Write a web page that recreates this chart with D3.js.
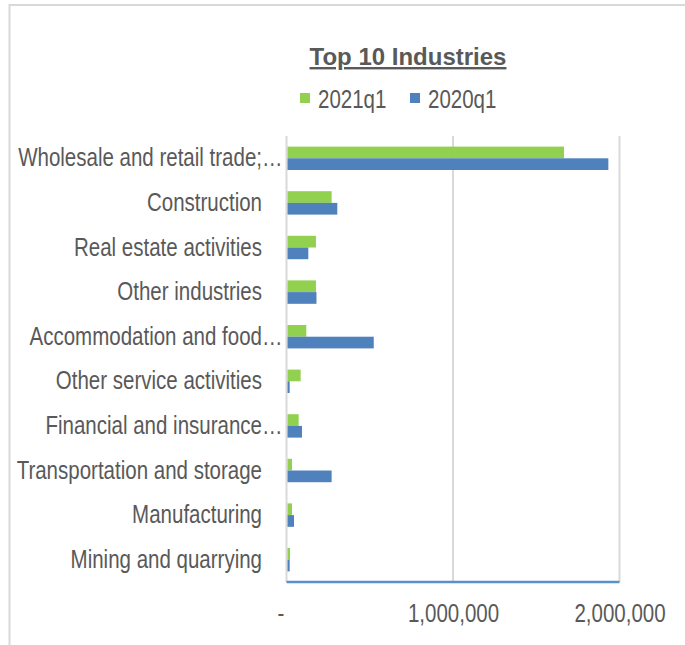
<!DOCTYPE html>
<html>
<head>
<meta charset="utf-8">
<script src="https://cdn.jsdelivr.net/npm/d3@7"></script>
<style>
  body { margin: 0; background: #fff; }
  text { font-family: "Liberation Sans", Arial, sans-serif; fill: #595959; }
</style>
</head>
<body>
<div id="wrapper"></div>
<script>
// data, top to bottom
const industries = [
    "Wholesale and retail trade;…",
    "Construction",
    "Real estate activities",
    "Other industries",
    "Accommodation and food…",
    "Other service activities",
    "Financial and insurance…",
    "Transportation and storage",
    "Manufacturing",
    "Mining and quarrying",
]
const values2021q1 = [1667000, 271000, 177000, 177000, 119000, 85000, 73000, 33000, 33000, 21000]
const values2020q1 = [1933000, 305000, 131000, 180000, 524000, 19000, 93000, 271000, 45000, 19000]
const seriesNames = ["2021q1", "2020q1"]
const seriesColors = ["#92d050", "#4f81bd"]
const xTicks = [0, 1000000, 2000000]

// the reference uses a narrow face; squeeze the regular one to match
const narrow = 0.82

function drawBarChart() {
    const dataset = industries.map((name, i) => ({
        name: name,
        values: [values2021q1[i], values2020q1[i]],
    }))

    // 1. dimensions
    let dimensions = {
        width: 685,
        height: 645,
        margin: { top: 136, right: 65, bottom: 63, left: 286.5 },
    }
    dimensions.boundedWidth = 619.5 - dimensions.margin.left
    dimensions.boundedHeight = 582 - dimensions.margin.top

    // 2. canvas
    const wrapper = d3.select("#wrapper")
        .append("svg")
        .attr("width", dimensions.width)
        .attr("height", dimensions.height)

    // chart border (cropped on right and bottom)
    wrapper.append("rect")
        .attr("x", 9.5)
        .attr("y", 5)
        .attr("width", 720)
        .attr("height", 700)
        .attr("fill", "none")
        .attr("stroke", "#d9d9d9")
        .attr("stroke-width", 2)

    const bounds = wrapper.append("g")
        .attr("transform", `translate(${dimensions.margin.left}, ${dimensions.margin.top})`)

    // 3. scales
    const xScale = d3.scaleLinear()
        .domain([0, 2000000])
        .range([0, dimensions.boundedWidth])

    const yScale = d3.scaleBand()
        .domain(industries)
        .range([0, dimensions.boundedHeight])
        .paddingInner(0.475)
        .paddingOuter(0.2375)

    const seriesScale = d3.scaleBand()
        .domain(seriesNames)
        .range([0, yScale.bandwidth()])

    // 4. gridlines
    bounds.append("g")
        .selectAll("line")
        .data(xTicks)
        .join("line")
        .attr("x1", d => xScale(d))
        .attr("x2", d => xScale(d))
        .attr("y1", 0)
        .attr("y2", dimensions.boundedHeight)
        .attr("stroke", "#d9d9d9")
        .attr("stroke-width", 2)

    // 5. bars
    const groups = bounds.append("g")
        .selectAll("g")
        .data(dataset)
        .join("g")
        .attr("transform", d => `translate(0, ${yScale(d.name)})`)

    groups.selectAll("rect")
        .data(d => d.values.map((v, i) => ({ series: seriesNames[i], value: v, color: seriesColors[i] })))
        .join("rect")
        .attr("x", xScale(0) + 1)
        .attr("y", d => seriesScale(d.series))
        .attr("width", d => xScale(d.value) - xScale(0) - 1)
        .attr("height", seriesScale.bandwidth())
        .attr("fill", d => d.color)

    // 6. axes
    bounds.append("line")
        .attr("x1", 0)
        .attr("x2", dimensions.boundedWidth)
        .attr("y1", dimensions.boundedHeight)
        .attr("y2", dimensions.boundedHeight)
        .attr("stroke", "#5b8fc9")
        .attr("stroke-width", 2.5)

    const xAxisGenerator = d3.axisBottom()
        .scale(xScale)
        .tickValues(xTicks)
        .tickSize(0)
        .tickPadding(0)
        .tickFormat(d => d === 0 ? "-" : d3.format(",")(d))

    const xAxis = bounds.append("g")
        .attr("transform", `translate(0, ${dimensions.boundedHeight})`)
        .call(xAxisGenerator)
    xAxis.select(".domain").remove()
    xAxis.selectAll("text")
        .attr("y", 40)
        .attr("dy", 0)
        .attr("x", d => d === 0 ? -6 / narrow : 0)
        .attr("transform", `scale(${narrow}, 1)`)
        .style("font-size", "25px")
        .style("font-family", null)
        .attr("fill", "#595959")

    const yAxisGenerator = d3.axisLeft()
        .scale(yScale)
        .tickSize(0)
        .tickPadding(0)

    const yAxis = bounds.append("g")
        .call(yAxisGenerator)
    yAxis.select(".domain").remove()
    yAxis.selectAll("text")
        .attr("x", d => (d.endsWith("…") ? -4 : -24.5) / narrow)
        .attr("dy", "0.32em")
        .attr("transform", `scale(${narrow}, 1)`)
        .style("font-size", "25px")
        .style("font-family", null)
        .attr("fill", "#595959")

    // 7. title + legend
    wrapper.append("text")
        .attr("x", 408)
        .attr("y", 65)
        .attr("text-anchor", "middle")
        .style("font-size", "24px")
        .style("font-weight", "bold")
        .style("text-decoration", "underline")
        .text("Top 10 Industries")

    const legendX = [300, 410]
    const legend = wrapper.append("g")
        .selectAll("g")
        .data(seriesNames)
        .join("g")
        .attr("transform", (d, i) => `translate(${legendX[i]}, 0)`)

    legend.append("rect")
        .attr("x", 0)
        .attr("y", 93)
        .attr("width", 10)
        .attr("height", 10)
        .attr("fill", (d, i) => seriesColors[i])

    legend.append("text")
        .attr("transform", `translate(18, 108) scale(${narrow}, 1)`)
        .style("font-size", "25px")
        .text(d => d)
}

drawBarChart()
</script>
</body>
</html>
